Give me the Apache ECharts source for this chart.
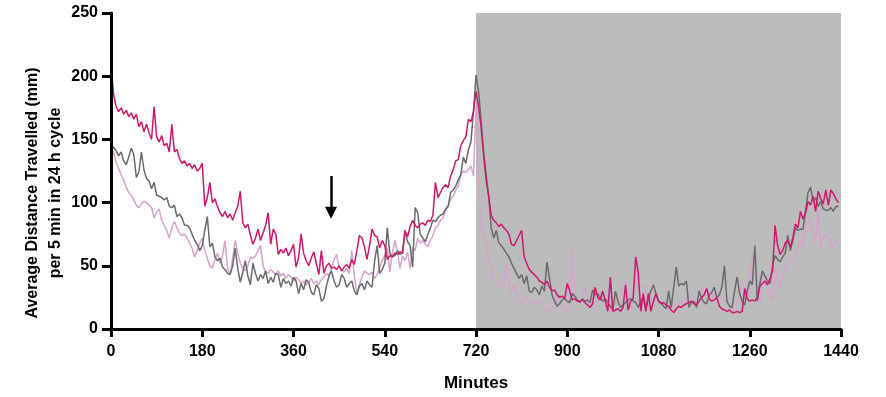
<!DOCTYPE html>
<html>
<head>
<meta charset="utf-8">
<script src="https://cdn.jsdelivr.net/npm/echarts@6/dist/echarts.min.js"></script>
<style>
  html, body { margin: 0; padding: 0; background: #ffffff; }
  #chart { width: 886px; height: 397px; }
</style>
</head>
<body>
<div id="chart"></div>
<script>
// x positions: one reading every 5 minutes across the 24 h cycle
const minutes = Array.from({ length: 288 }, (_, i) => i * 5);

// magenta series (rows = hours 0..23, 12 readings each)
const seriesMagenta = [
  210, 186, 176, 172, 175, 170, 173, 168, 171, 166, 170, 160,
  164, 156, 162, 155, 150, 176, 152, 148, 153, 145, 147, 140,
  162, 140, 142, 135, 131, 133, 129, 131, 127, 130, 125, 127,
  131, 97, 104, 116, 100, 103, 97, 92, 89, 93, 88, 91,
  86, 92, 97, 109, 84, 80, 83, 74, 67, 72, 79, 70,
  76, 82, 92, 67, 79, 75, 59, 63, 60, 64, 58, 62,
  67, 49, 56, 75, 60, 54, 50, 56, 61, 52, 43, 62,
  44, 50, 52, 48, 49, 47, 50, 46, 49, 51, 48, 55,
  51, 62, 74, 72, 65, 55, 66, 79, 74, 73, 64, 70,
  66, 55, 58, 57, 60, 59, 61, 60, 78, 73, 81, 86,
  82, 80, 83, 84, 82, 86, 85, 90, 116, 104, 108, 112,
  114, 112, 121, 126, 133, 134, 145, 149, 152, 166, 164, 172,
  188, 176, 160, 138, 118, 105, 90, 86, 84, 81, 83, 80,
  78, 75, 67, 66, 70, 74, 78, 57, 52, 47, 45, 43,
  41, 38, 37, 35, 38, 33, 30, 31, 27, 25, 26, 24,
  36, 30, 23, 24, 22, 22, 23, 21, 19, 17, 20, 33,
  25, 23, 30, 22, 14, 41, 14, 15, 16, 14, 17, 35,
  15, 22, 24, 57, 45, 14, 28, 14, 28, 14, 22, 28,
  22, 20, 21, 19, 18, 15, 13, 16, 18, 17, 19, 20,
  21, 22, 20, 19, 22, 25, 27, 32, 24, 22, 23, 25,
  18, 16, 15, 14, 15, 13, 13, 14, 13, 14, 32, 24,
  22, 23, 22, 25, 34, 36, 38, 35, 40, 46, 82, 66,
  59, 62, 68, 70, 65, 72, 83, 80, 93, 87, 92, 101,
  98, 105, 93, 109, 103, 99, 110, 98, 110, 107, 103, 100
];

// dark grey series
const seriesGrey = [
  142, 144, 141, 137, 140, 133, 130, 136, 143, 138, 120, 124,
  140, 126, 119, 117, 111, 116, 106, 105, 104, 102, 104, 97,
  96, 98, 89, 91, 88, 82, 82, 80, 75, 70, 67, 62,
  66, 78, 89, 65, 68, 57, 54, 56, 49, 47, 44, 43,
  50, 64, 48, 37, 45, 54, 42, 35, 52, 44, 38, 43,
  40, 46, 36, 41, 37, 44, 43, 33, 40, 36, 38, 34,
  41, 38, 28, 36, 31, 39, 37, 29, 27, 35, 32, 22,
  24, 34, 42, 46, 38, 33, 35, 43, 40, 33, 36, 38,
  30, 27, 34, 36, 31, 38, 35, 33, 54, 66, 44, 47,
  52, 80, 60, 57, 58, 62, 59, 60, 78, 69, 66, 49,
  96, 92, 75, 72, 69, 75, 80, 86, 85, 88, 90, 91,
  95, 97, 108, 110, 113, 118, 122, 136, 131, 142, 148, 172,
  201, 188, 165, 140, 122, 105, 80, 72, 78, 68, 66, 63,
  60, 57, 52, 48, 44, 40, 43, 36, 42, 30, 29, 33,
  31, 27, 34, 30, 53, 40, 27, 22, 18, 20, 23, 24,
  22, 21, 28, 26, 23, 21, 24, 22, 23, 21, 31, 27,
  28, 25, 22, 24, 21, 18, 15, 30, 22, 17, 19, 21,
  23, 24, 22, 21, 17, 22, 25, 16, 24, 30, 35, 28,
  22, 21, 18, 16, 30, 17, 33, 49, 34, 36, 35, 38,
  17, 21, 22, 17, 30, 24, 21, 20, 27, 29, 33, 25,
  27, 33, 50, 22, 18, 17, 30, 41, 28, 22, 19, 30,
  38, 35, 66, 22, 36, 46, 42, 38, 36, 50, 58, 55,
  53, 57, 60, 74, 62, 70, 80, 78, 79, 79, 93, 108,
  112, 101, 104, 97, 101, 95, 94, 94, 96, 93, 97, 97
];

// light pink series
const seriesPink = [
  142, 140, 132, 127, 122, 118, 112, 108, 106, 102, 98, 96,
  99, 101, 100, 98, 96, 88, 92, 95, 86, 82, 78, 72,
  80, 85, 80, 76, 74, 75, 72, 68, 64, 57, 62, 68,
  72, 62, 56, 50, 48, 55, 60, 52, 58, 70, 48, 43,
  56, 70, 60, 52, 48, 46, 50, 57, 56, 58, 62, 66,
  50, 45, 44, 47, 45, 43, 46, 42, 44, 40, 43, 41,
  38, 41, 39, 36, 38, 35, 37, 40, 36, 38, 35, 39,
  41, 44, 42, 48, 55, 59, 49, 47, 45, 48, 44, 62,
  42, 28, 35, 41, 46, 44, 43, 45, 40, 43, 48, 54,
  58, 64, 45, 60, 70, 62, 48, 58, 54, 61, 48, 65,
  62, 72, 68, 70, 67, 65, 70, 74, 80, 82, 86, 88,
  94, 97, 103, 105, 110, 113, 122, 125, 124, 126, 129, 121,
  176, 120, 80, 76, 72, 55, 50, 37, 36, 38, 33, 36,
  52, 34, 29, 35, 28, 24, 21, 23, 25, 24, 20, 22,
  21, 22, 19, 18, 15, 14, 16, 18, 25, 22, 18, 15,
  14, 28, 62, 24, 21, 20, 24, 33, 26, 17, 20, 21,
  22, 25, 28, 22, 17, 14, 18, 22, 26, 28, 34, 38,
  22, 15, 30, 49, 38, 15, 25, 35, 30, 24, 21, 23,
  22, 21, 20, 18, 17, 18, 20, 19, 20, 21, 22, 25,
  27, 24, 22, 21, 26, 31, 33, 33, 28, 25, 27, 29,
  30, 25, 22, 20, 19, 15, 16, 21, 26, 38, 30, 23,
  40, 59, 42, 35, 20, 46, 40, 33, 28, 22, 49, 40,
  33, 42, 49, 51, 54, 55, 57, 66, 70, 64, 80, 85,
  88, 76, 67, 93, 65, 72, 75, 72, 62, 66, 70, 68
];

// dark phase of the cycle (minutes) and the arrow annotation (minute, from, to)
const darkPhase = [720, 1440];
const arrowMark = [434, 121, 92];

const pairs = (vals) => minutes.map((m, i) => [m, vals[i]]);

const FONT = 'Liberation Sans, Arial, sans-serif';
const chart = echarts.init(document.getElementById('chart'), null, { renderer: 'canvas' });

chart.setOption({
  animation: false,
  backgroundColor: '#ffffff',
  grid: { left: 111, right: 45, top: 13, bottom: 66, containLabel: false },
  xAxis: {
    type: 'value',
    min: 0, max: 1440, interval: 180,
    z: 10,
    name: 'Minutes',
    nameLocation: 'middle',
    nameGap: 46,
    nameTextStyle: { fontFamily: FONT, fontWeight: 'bold', fontSize: 17, color: '#000' },
    axisLine: { lineStyle: { color: '#000', width: 3 } },
    axisTick: { show: true, length: 8, lineStyle: { color: '#000', width: 3 } },
    axisLabel: {
      fontFamily: FONT, fontWeight: 'bold', fontSize: 16, color: '#000', margin: 15,
      formatter: (v) => String(v)
    },
    splitLine: { show: false }
  },
  yAxis: {
    type: 'value',
    min: 0, max: 250, interval: 50,
    z: 10,
    axisLine: { show: true, lineStyle: { color: '#000', width: 3 } },
    axisTick: { show: true, length: 9, lineStyle: { color: '#000', width: 3 } },
    axisLabel: {
      fontFamily: FONT, fontWeight: 'bold', fontSize: 16, color: '#000', margin: 13,
      formatter: (v) => String(v)
    },
    splitLine: { show: false }
  },
  graphic: [
    {
      type: 'text', x: 33, y: 193, rotation: Math.PI / 2,
      style: { text: 'Average Distance Travelled (mm)', font: 'bold 16px ' + FONT, fill: '#000', align: 'center', verticalAlign: 'middle' }
    },
    {
      type: 'text', x: 56, y: 193, rotation: Math.PI / 2,
      style: { text: 'per 5 min in 24 h cycle', font: 'bold 16px ' + FONT, fill: '#000', align: 'center', verticalAlign: 'middle' }
    }
  ],
  series: [
    {
      name: 'dark phase', type: 'line', data: [], z: 1, silent: true,
      markArea: {
        silent: true,
        itemStyle: { color: '#bcbcbc', opacity: 1 },
        data: [[{ xAxis: darkPhase[0] }, { xAxis: darkPhase[1] }]]
      }
    },
    {
      name: 'pink', type: 'line', data: pairs(seriesPink), z: 2,
      showSymbol: false, symbol: 'none',
      lineStyle: { color: '#d6a3cd', width: 1.5 }
    },
    {
      name: 'grey', type: 'line', data: pairs(seriesGrey), z: 3,
      showSymbol: false, symbol: 'none',
      lineStyle: { color: '#6a6a6a', width: 1.5 }
    },
    {
      name: 'magenta', type: 'line', data: pairs(seriesMagenta), z: 4,
      showSymbol: false, symbol: 'none',
      lineStyle: { color: '#cf1770', width: 1.5 },
      markLine: {
        silent: true,
        symbol: ['none', 'triangle'],
        symbolSize: [12, 12],
        label: { show: false },
        lineStyle: { color: '#000', width: 2.5, type: 'solid' },
        data: [[
          { coord: [arrowMark[0], arrowMark[1]] },
          { coord: [arrowMark[0], arrowMark[2]] }
        ]]
      }
    }
  ]
});
</script>
</body>
</html>
